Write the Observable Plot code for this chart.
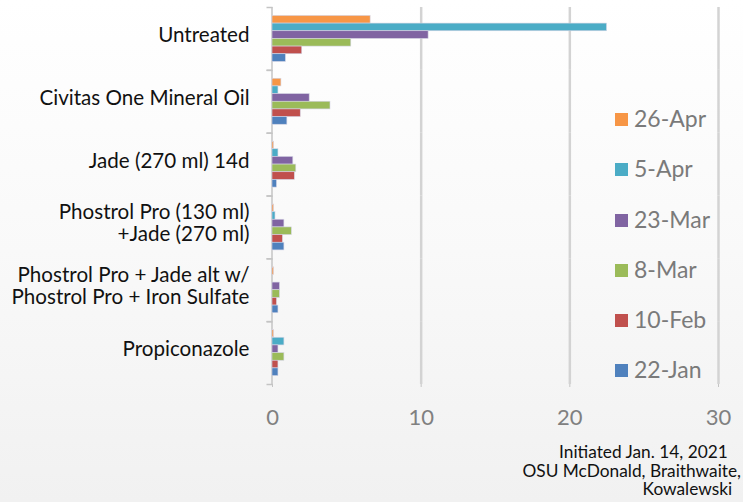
<!DOCTYPE html>
<html>
<head>
<meta charset="utf-8">
<script src="https://cdn.jsdelivr.net/npm/d3@7"></script>
<script src="https://cdn.jsdelivr.net/npm/@observablehq/plot@0.6"></script>
<style>
  html, body { margin: 0; padding: 0; }
  body { width: 743px; height: 502px; overflow: hidden; }
  #wrap {
    position: relative; width: 743px; height: 502px;
    background: linear-gradient(to bottom, #ffffff 0%, #f9f9f9 50%, #f1f1f1 100%);
    font-family: Lato, "Noto Sans", sans-serif;
  }
  #chart svg { display: block; background: transparent; }
  #legend { position: absolute; left: 615px; top: 107px; }
  .item { height: 50.3px; display: flex; align-items: flex-start; }
  .sw { width: 13px; height: 13px; margin-top: 6px; margin-right: 6px; }
  .lab { font-size: 23px; color: #7a7a7a; line-height: 23px; }
  #caption {
    position: absolute; right: 2px; top: 443px; text-align: right;
    font-size: 17.3px; line-height: 18.5px; color: #111; white-space: pre;
  }
</style>
</head>
<body>
<div id="wrap">
  <div id="chart"></div>
  <div id="legend"></div>
  <div id="caption"></div>
</div>
<script>
const categories = [
  "Untreated",
  "Civitas One Mineral Oil",
  "Jade (270 ml) 14d",
  "Phostrol Pro (130 ml)\n+Jade (270 ml)",
  "Phostrol Pro + Jade alt w/\nPhostrol Pro + Iron Sulfate",
  "Propiconazole"
];
const series = ["26-Apr", "5-Apr", "23-Mar", "8-Mar", "10-Feb", "22-Jan"];
const colors = ["#F79646", "#4BACC6", "#8064A2", "#9BBB59", "#C0504D", "#4F81BD"];

// values per series, in category order
const apr26 = [6.6, 0.6, 0.1, 0.1, 0.1, 0.1];
const apr5  = [22.5, 0.4, 0.4, 0.2, 0.0, 0.8];
const mar23 = [10.5, 2.5, 1.4, 0.8, 0.5, 0.4];
const mar8  = [5.3, 3.9, 1.6, 1.3, 0.5, 0.8];
const feb10 = [2.0, 1.9, 1.5, 0.7, 0.3, 0.4];
const jan22 = [0.9, 1.0, 0.3, 0.8, 0.4, 0.4];

const xTicks = [0, 10, 20, 30];
const captionLines = ["Initiated Jan. 14, 2021\u00a0\u00a0\u00a0", "OSU McDonald, Braithwaite,", "Kowalewski\u00a0\u00a0"];

const seriesValues = [apr26, apr5, mar23, mar8, feb10, jan22];
const data = [];
categories.forEach((c, ci) => {
  series.forEach((s, si) => data.push({category: c, series: s, value: seriesValues[si][ci]}));
});

const tickSym = {draw(ctx) { ctx.moveTo(-6, 0); ctx.lineTo(0, 0); }};

const marks = [
  Plot.ruleX(xTicks.slice(1), {stroke: "#d3d3d3", strokeWidth: 2.5}),
  Plot.ruleX([0], {stroke: "#c4c4c4", strokeWidth: 1.5, dx: -0.5}),
  Plot.barX(data, {x: "value", y: "series", fill: "series", stroke: "#d4d4e4", strokeWidth: 0.6}),
  Plot.dot([0], {frameAnchor: "top-left", symbol: tickSym, stroke: "#c4c4c4", strokeWidth: 1.5, fill: "none"}),
  Plot.dot([0], {frameAnchor: "bottom-left", symbol: tickSym, stroke: "#c4c4c4", strokeWidth: 1.5, fill: "none"}),
  Plot.text(data, {filter: d => d.series === series[0], frameAnchor: "left", text: "category",
    textAnchor: "end", lineAnchor: "middle", dx: -23, dy: -4, fontSize: 20.6, fill: "#111", lineHeight: 1.07})
];

const hasAxisMarks = typeof Plot.axisX === "function";
if (hasAxisMarks) {
  marks.push(Plot.axisX(xTicks, {facetAnchor: "bottom", label: null, tickSize: 3, tickPadding: 22, fontSize: 22, fill: "#808080", stroke: "#c4c4c4", color: "#808080"}));
}

const chart = Plot.plot({
  width: 743,
  height: 440,
  marginLeft: 272,
  marginRight: 25,
  marginTop: 7,
  marginBottom: 56,
  style: {fontFamily: "Lato, 'Noto Sans', sans-serif", background: "transparent", color: "#808080", fontSize: "22px"},
  facet: {data: data, y: "category"},
  fy: {domain: categories, padding: 0, round: false, axis: null, label: null},
  y: {domain: series, paddingInner: 0, paddingOuter: 1.1, round: false, align: 0.5, axis: null},
  x: hasAxisMarks ? {domain: [0, 30], axis: null} : {domain: [0, 30], ticks: xTicks, tickSize: 3, tickPadding: 22, label: null},
  color: {domain: series, range: colors},
  marks
});
document.getElementById("chart").appendChild(chart);

const legend = d3.select("#legend");
series.forEach((s, i) => {
  const it = legend.append("div").attr("class", "item");
  it.append("div").attr("class", "sw").style("background", colors[i]);
  it.append("div").attr("class", "lab").text(s);
});
d3.select("#caption").text(captionLines.join("\n"));
</script>
</body>
</html>
